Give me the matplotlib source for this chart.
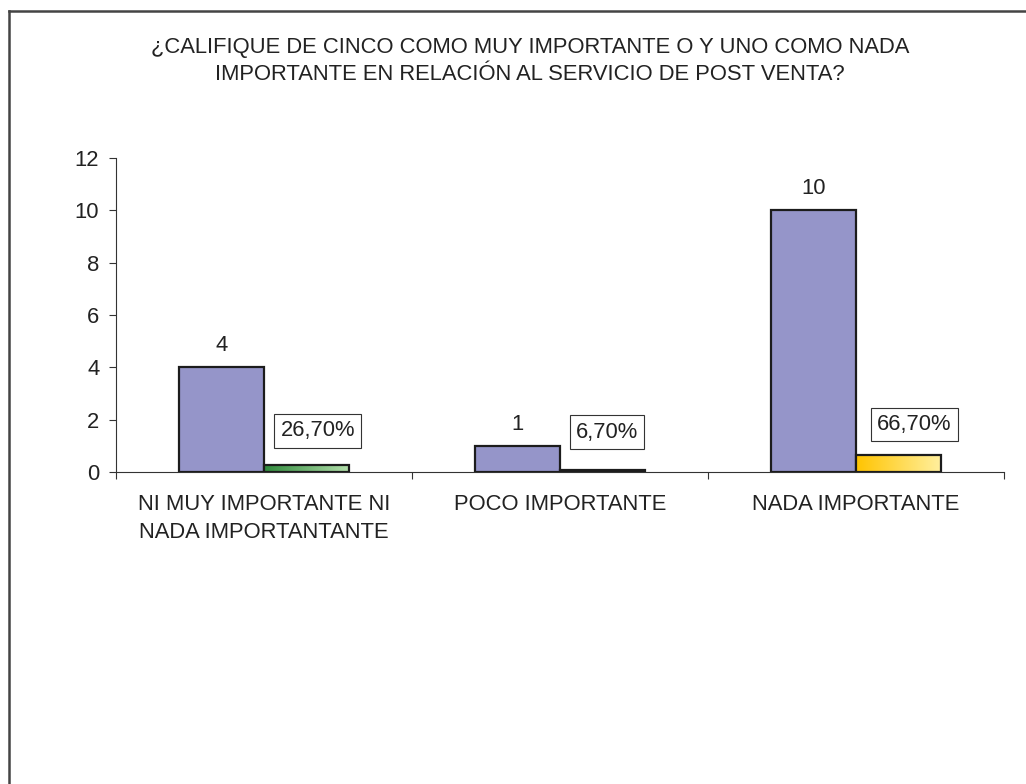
import numpy as np
import matplotlib.pyplot as plt
from matplotlib.colors import LinearSegmentedColormap

plt.rcParams['font.family'] = ['Liberation Sans', 'DejaVu Sans']

# Data
categories = ["NI MUY IMPORTANTE NI\nNADA IMPORTANTANTE", "POCO IMPORTANTE", "NADA IMPORTANTE"]
counts = [4, 1, 10]
shares = [0.267, 0.067, 0.667]
share_labels = ["26,70%", "6,70%", "66,70%"]
title = ("¿CALIFIQUE DE CINCO COMO MUY IMPORTANTE O Y UNO COMO NADA\n"
         "IMPORTANTE EN RELACIÓN AL SERVICIO DE POST VENTA?")

# Style
blue = "#9595c9"
share_grads = [("#2f8a3c", "#b4e0ac"), ("#6a6aa8", "#c0c0e8"), ("#ffc400", "#fff0a0")]
label_offsets = [(8, 24.5), (3, 27.5), (11.5, 21.6)]  # points
edge = "#1c1c1c"
width = 0.288
fs = 15.8

fig = plt.figure(figsize=(10.26, 7.84), dpi=100)
ax = fig.add_axes([116 / 1026, 1 - 472 / 784, 888 / 1026, 314 / 784])

# outer frame (left + top visible)
fig.add_artist(plt.Line2D([9 / 1026, 9 / 1026], [0, 1 - 11 / 784], transform=fig.transFigure,
                          color="#444444", lw=1.8))
fig.add_artist(plt.Line2D([9 / 1026, 1], [1 - 11 / 784, 1 - 11 / 784], transform=fig.transFigure,
                          color="#444444", lw=1.8))

x = np.arange(len(categories))
b1 = ax.bar(x - width / 2, counts, width, color=blue, edgecolor=edge, linewidth=1.6, zorder=3)
b2 = ax.bar(x + width / 2, shares, width, color="none", edgecolor=edge, linewidth=1.6, zorder=4)

# gradient fill for second series
grad = np.linspace(0, 1, 256).reshape(1, -1)
for bar, (c0, c1) in zip(b2, share_grads):
    cmap = LinearSegmentedColormap.from_list("g", [c0, c1])
    bx, by, bw, bh = bar.get_x(), bar.get_y(), bar.get_width(), bar.get_height()
    im = ax.imshow(grad, cmap=cmap, aspect="auto", extent=[bx, bx + bw, by, by + bh], zorder=3.5)
    im.set_clip_path(bar)

for bar, v in zip(b1, counts):
    ax.annotate(str(v), (bar.get_x() + bar.get_width() / 2, bar.get_height()),
                xytext=(0, 8), textcoords="offset points", ha="center", va="bottom",
                fontsize=fs, color="#222222")

for bar, lab, (dx, dy) in zip(b2, share_labels, label_offsets):
    ax.annotate(lab, (bar.get_x() + bar.get_width() / 2, bar.get_height()),
                xytext=(dx, dy), textcoords="offset points", ha="center", va="center",
                fontsize=fs, color="#222222",
                bbox=dict(boxstyle="square,pad=0.28", fc="white", ec="#333333", lw=0.8))

ax.set_xlim(-0.5, 2.5)
ax.set_ylim(0, 12)
ax.set_yticks(range(0, 13, 2))
ax.set_xticks([-0.5, 0.5, 1.5, 2.5])
ax.set_xticklabels([])
ax.set_xticks(x, minor=True)
ax.set_xticklabels(categories, minor=True, fontsize=fs, color="#222222", linespacing=1.4)
ax.tick_params(axis="x", which="minor", length=0, pad=16)
ax.tick_params(axis="x", which="major", length=5, color="#333333", width=0.8)
ax.tick_params(axis="y", length=5, pad=7, labelsize=fs, labelcolor="#222222", color="#333333", width=0.8)

for s in ["top", "right"]:
    ax.spines[s].set_visible(False)
for s in ["left", "bottom"]:
    ax.spines[s].set_color("#333333")
    ax.spines[s].set_linewidth(0.8)

fig.text(530 / 1026, 1 - 61 / 784, title, ha="center", va="center", fontsize=fs,
         color="#222222", linespacing=1.4)

fig.savefig("out.png", dpi=100)
